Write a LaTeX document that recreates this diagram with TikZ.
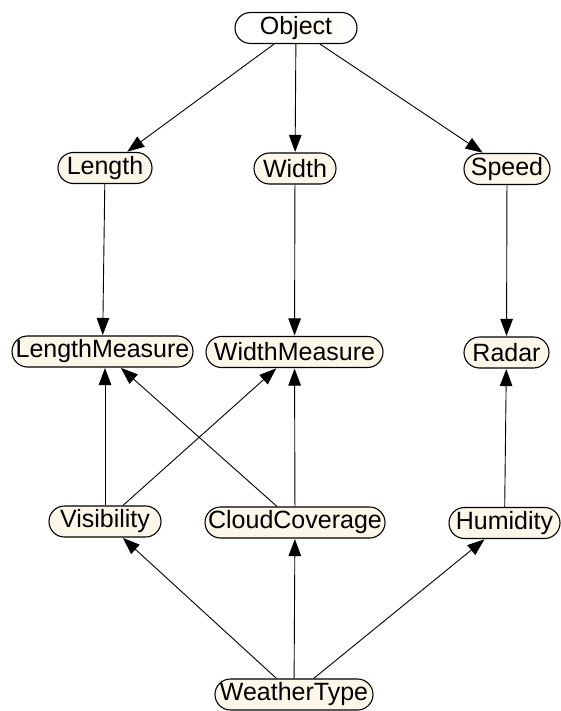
\documentclass[tikz,border=0pt]{standalone}
\usepackage{fontspec}
\setmainfont{Liberation Sans}
\usetikzlibrary{arrows.meta}
\definecolor{cream}{RGB}{253,247,233}
\tikzset{
  labelfont/.style={font=\fontsize{25}{28}\selectfont},
  concept/.style={draw=black, line width=1.1pt, fill=cream, rounded corners=15.5pt,
    minimum height=31pt, inner sep=0pt, labelfont},
  rel/.style={draw=black, line width=0.9pt, -{Triangle[length=17pt,width=12.5pt]}, shorten >=0.5pt},
}
\begin{document}
\begin{tikzpicture}[x=1pt,y=-1pt]
\useasboundingbox (0,0) rectangle (561,711);

% top concept: white body with a soft cream centre
\node[concept, fill=white, minimum width=122pt] (obj) at (296,28) {\phantom{Object}};
\shade[inner color=cream, outer color=white] (309,28) ellipse (42pt and 15pt);
\node[labelfont, inner sep=0pt] at (296,28) {Object};

% second row
\node[concept, minimum width=94pt] (len) at (105,168) {Length};
\node[concept, minimum width=82pt] (wid) at (295,168.5) {Width};
\node[concept, minimum width=86pt] (spd) at (507,169) {Speed};

% third row
\node[concept, minimum width=181pt] (lenm) at (102.5,351.5) {LengthMeasure};
\node[concept, minimum width=177pt] (widm) at (294.5,352) {WidthMeasure};
\node[concept, minimum width=85pt] (rad) at (506.5,352.5) {Radar};

% fourth row
\node[concept, minimum width=112pt] (vis) at (105,521.5) {Visibility};
\node[concept, minimum width=180pt] (cld) at (295,522.5) {CloudCoverage};
\node[concept, minimum width=111pt] (hum) at (504.5,523) {Humidity};

% bottom
\node[concept, minimum width=158pt] (wt) at (294,694.5) {WeatherType};

% connectors
\draw[rel] (obj) -- (len);
\draw[rel] (obj) -- (wid);
\draw[rel] (obj) -- (spd);
\draw[rel] (len) -- (lenm);
\draw[rel] (wid) -- (widm);
\draw[rel] (spd) -- (rad);
\draw[rel] (vis.north) -- (lenm.south -| vis.north);
\draw[rel] (vis) -- (widm);
\draw[rel] (cld) -- (lenm);
\draw[rel] (cld) -- (widm);
\draw[rel] (hum) -- (rad);
\draw[rel] (wt) -- (vis);
\draw[rel] (wt) -- (cld);
\draw[rel] (wt) -- (hum);
\end{tikzpicture}
\end{document}
